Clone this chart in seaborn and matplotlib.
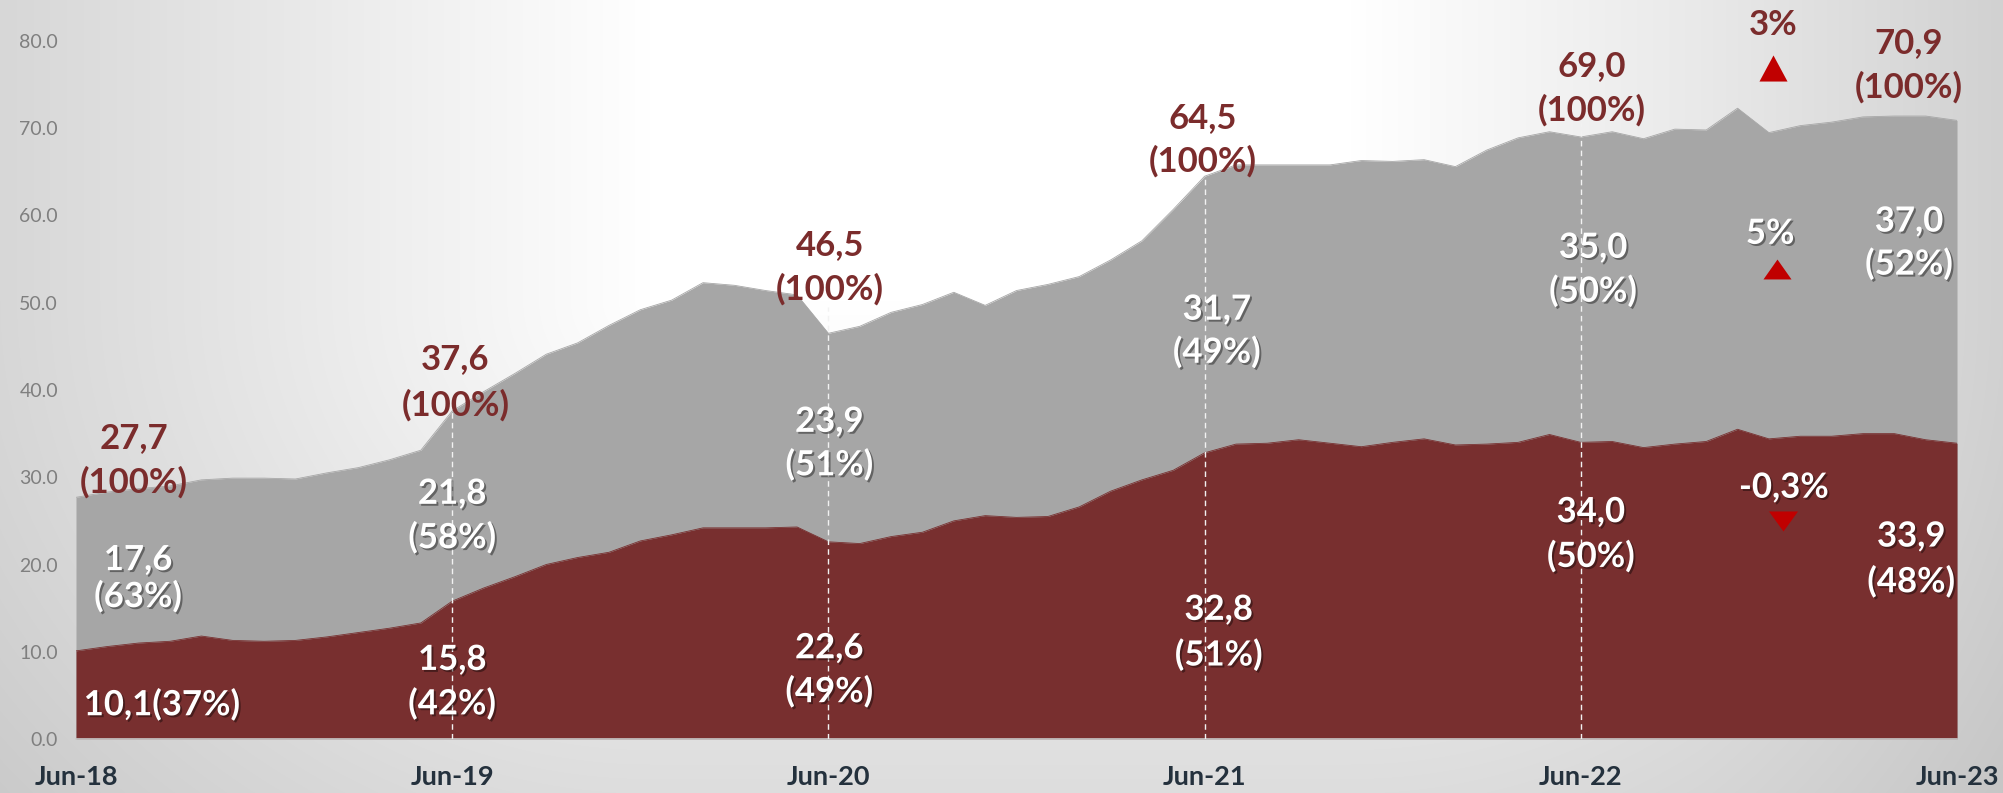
import numpy as np
import matplotlib
matplotlib.use("Agg")
import matplotlib.pyplot as plt
import matplotlib.patheffects as pe
import seaborn as sns

# ---------------- data ----------------
tick_labels = ["Jun-18", "Jun-19", "Jun-20", "Jun-21", "Jun-22", "Jun-23"]

total = [27.7, 28.3, 28.7, 29.0, 29.7, 29.9, 29.9, 29.8, 30.5, 31.1, 32.0, 33.1,
         37.6, 39.8, 41.9, 44.1, 45.4, 47.4, 49.2, 50.3, 52.3, 52.0, 51.4, 50.9,
         46.5, 47.3, 48.9, 49.8, 51.2, 49.7, 51.4, 52.1, 53.0, 54.9, 57.1, 60.7,
         64.5, 65.8, 65.8, 65.8, 65.8, 66.3, 66.2, 66.4, 65.6, 67.5, 68.9, 69.6,
         69.0, 69.6, 68.8, 69.9, 69.8, 72.3, 69.5, 70.3, 70.7, 71.3, 71.4, 71.4,
         70.9]

red_series = [10.1, 10.6, 11.0, 11.2, 11.8, 11.3, 11.2, 11.3, 11.7, 12.2, 12.7, 13.3,
              15.8, 17.3, 18.6, 20.0, 20.8, 21.4, 22.7, 23.4, 24.2, 24.2, 24.2, 24.3,
              22.6, 22.4, 23.2, 23.7, 25.0, 25.6, 25.4, 25.5, 26.6, 28.4, 29.7, 30.8,
              32.8, 33.8, 33.9, 34.3, 33.9, 33.5, 34.0, 34.4, 33.7, 33.8, 34.0, 34.9,
              34.0, 34.1, 33.4, 33.8, 34.1, 35.5, 34.4, 34.7, 34.7, 35.0, 35.0, 34.3,
              33.9]

total_labels = ["27,7", "37,6", "46,5", "64,5", "69,0", "70,9"]
gray_labels = ["17,6", "21,8", "23,9", "31,7", "35,0", "37,0"]
gray_pct = ["(63%)", "(58%)", "(51%)", "(49%)", "(50%)", "(52%)"]
red_labels = ["10,1", "15,8", "22,6", "32,8", "34,0", "33,9"]
red_pct = ["(37%)", "(42%)", "(49%)", "(51%)", "(50%)", "(48%)"]
growth_total = "3%"
growth_gray = "5%"
growth_red = "-0,3%"

# ---------------- style ----------------
RED = "#782F2F"
GRAY = "#A6A6A6"
LBL_RED = "#7B2C2C"
TRI = "#C00000"

sns.set_theme(style="white")
plt.rcParams["font.family"] = ["Lato", "DejaVu Sans"]

W, H = 2003, 793
fig = plt.figure(figsize=(W / 100, H / 100), dpi=100)

# background gradient
bg = fig.add_axes([0, 0, 1, 1], zorder=-5)
xx = np.arange(W)
yy = np.arange(H)
hx = np.interp(xx, [0, 300, 650, 1350, 1700, 2003], [40, 22, 0, 0, 22, 46])
vy = np.interp(yy, [0, 300, 793], [0, 0, 34])
I = 255 - np.sqrt(hx[None, :] ** 2 + vy[:, None] ** 2)
bg.imshow(np.dstack([I, I, I]) / 255.0, aspect="auto", extent=[0, 1, 0, 1], origin="upper")
bg.set_axis_off()

ax = fig.add_axes([76 / W, 54 / H, (1957 - 76) / W, (739 - 41) / H])
ax.set_facecolor("none")

x = np.arange(len(total))
ax.fill_between(x, 0, total, color=GRAY, lw=0, zorder=1)
ax.fill_between(x, 0, red_series, color=RED, lw=0, zorder=2)
sns.lineplot(x=x, y=total, ax=ax, color=GRAY, lw=0.6, zorder=1.5)
sns.lineplot(x=x, y=red_series, ax=ax, color=RED, lw=0.6, zorder=2.5)

ax.set_xlim(0, 60)
ax.set_ylim(0, 80)

yt = np.arange(0, 81, 10)
ax.set_yticks(yt)
ax.set_yticklabels([f"{v:.1f}" for v in yt])
ax.tick_params(axis="y", length=0, pad=13, labelsize=14, labelcolor="#7f7f7f")

xt = np.arange(0, 61, 12)
ax.set_xticks(xt)
ax.set_xticklabels(tick_labels)
ax.tick_params(axis="x", direction="out", length=15, width=1, color="#d0d0d0",
               pad=4, labelsize=19.5, labelcolor="#24313d")
for t in ax.get_xticklabels():
    t.set_fontweight("bold")

for s in ["left", "top", "right"]:
    ax.spines[s].set_visible(False)
ax.spines["bottom"].set_color("#c8c8c8")
ax.spines["bottom"].set_linewidth(1.2)
ax.grid(False)

# dashed guide lines at yearly points
guide_idx = [12, 24, 36, 48]
guide_top = [total[12] + 0.1, total[24] + 3.0, total[36], total[48] + 1.6]
ax.vlines(guide_idx, 0, guide_top, colors="#f2f2f2", linestyles=(0, (4, 3)),
          lw=1.0, zorder=3)

# ---------------- labels ----------------
FS = 25
shadow = [pe.withSimplePatchShadow(offset=(1.4, -1.4), shadow_rgbFace="black", alpha=0.4)]

def lab(xv, yv, s, color, shad=False):
    ax.text(xv, yv, s, ha="center", va="center", fontsize=FS, fontweight="bold",
            color=color, zorder=6, clip_on=False,
            path_effects=shadow if shad else None)

# (x, y_top_line, y_second_line) layout for each year block
tot_pos = [(1.85, 34.5, 29.4), (12.1, 43.6, 38.3), (24.05, 56.6, 51.5),
           (35.95, 71.2, 66.2), (48.35, 77.1, 72.1), (58.47, 79.8, 74.7)]
gray_pos = [(1.98, 20.5, 16.3), (12.0, 28.1, 23.05), (24.03, 36.35, 31.4),
            (36.39, 49.2, 44.3), (48.39, 56.3, 51.3), (58.47, 59.3, 54.4)]
red_pos = [(None, 3.9, None), (12.0, 9.06, 4.0), (24.03, 10.4, 5.4),
           (36.45, 14.8, 9.6), (48.32, 26.0, 20.9), (58.54, 23.2, 18.0)]

for k in range(6):
    xp, y1, y2 = tot_pos[k]
    lab(xp, y1, total_labels[k], LBL_RED)
    lab(xp, y2, "(100%)", LBL_RED)
    xp, y1, y2 = gray_pos[k]
    lab(xp, y1, gray_labels[k], "white", True)
    lab(xp, y2, gray_pct[k], "white", True)
    xp, y1, y2 = red_pos[k]
    if xp is None:
        lab(2.74, y1, red_labels[k] + red_pct[k], "white", True)
    else:
        lab(xp, y1, red_labels[k], "white", True)
        lab(xp, y2, red_pct[k], "white", True)

# growth annotations
lab(54.13, 81.8, growth_total, LBL_RED)
lab(54.04, 57.9, growth_gray, "white", True)
lab(54.48, 28.8, growth_red, "white", True)

up_tall = [(-1, -0.93), (1, -0.93), (0, 0.93), (-1, -0.93)]
up_flat = [(-1, -0.71), (1, -0.71), (0, 0.71), (-1, -0.71)]
down_flat = [(-1, 0.69), (1, 0.69), (0, -0.69), (-1, 0.69)]
ax.scatter([54.13], [76.95], marker=up_tall, s=20.2 ** 2, color=TRI, lw=0, zorder=6, clip_on=False)
ax.scatter([54.26], [53.9], marker=up_flat, s=20.2 ** 2, color=TRI, lw=0, zorder=6)
ax.scatter([54.45], [25.0], marker=down_flat, s=20.9 ** 2, color=TRI, lw=0, zorder=6)

fig.savefig("out.png", dpi=100)
